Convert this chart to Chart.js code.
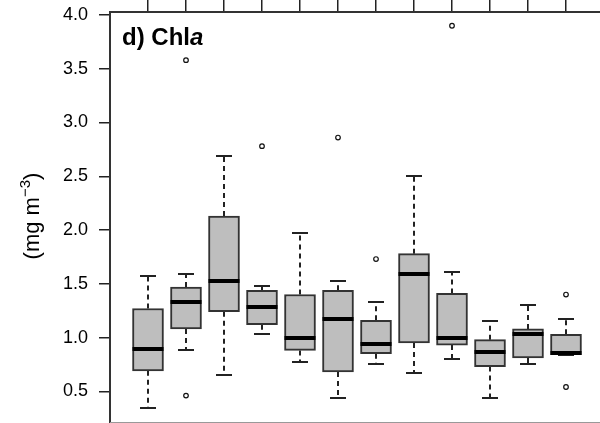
<!DOCTYPE html>
<html>
<head>
<meta charset="utf-8">
<script src="https://cdn.jsdelivr.net/npm/chart.js@4.4.1/dist/chart.umd.min.js"></script>
<style>
  html, body { margin: 0; padding: 0; background: #fff; overflow: hidden; }
  #wrap { width: 606px; height: 423px; }
</style>
</head>
<body>
<div id="wrap"><canvas id="c" width="606" height="423"></canvas></div>
<script>
// Chlorophyll a concentration per sampling group (mg m^-3): box-plot statistics
const groups   = [1, 2, 3, 4, 5, 6, 7, 8, 9, 10, 11, 12];
const whiskLow = [0.34, 0.88, 0.65, 1.03, 0.77, 0.44, 0.75, 0.67, 0.80, 0.44, 0.75, 0.84];
const q1       = [0.69, 1.08, 1.24, 1.12, 0.88, 0.68, 0.85, 0.95, 0.93, 0.73, 0.81, 0.84];
const medians  = [0.89, 1.33, 1.53, 1.28, 1.00, 1.17, 0.94, 1.59, 1.00, 0.87, 1.03, 0.86];
const q3       = [1.27, 1.47, 2.13, 1.44, 1.40, 1.44, 1.16, 1.78, 1.41, 0.98, 1.08, 1.03];
const whiskHigh= [1.57, 1.59, 2.69, 1.48, 1.97, 1.53, 1.33, 2.50, 1.61, 1.15, 1.30, 1.17];
// outlying observations: [group, value]
const outliers = [[2, 0.46], [2, 3.58], [4, 2.78], [6, 2.86], [7, 1.73], [9, 3.90], [12, 0.54], [12, 1.40]];
const yTicks   = [0.5, 1.0, 1.5, 2.0, 2.5, 3.0, 3.5, 4.0];

const FONT = "'Liberation Sans', Arial, Helvetica, sans-serif";
const BOX_W = 31;
const CAP_W = 16;

const boxParts = {
  id: 'boxParts',
  beforeDatasetsDraw(chart) {
    const { ctx, scales: { x, y } } = chart;
    ctx.save();
    ctx.strokeStyle = '#222';
    ctx.lineWidth = 2;
    groups.forEach((g, i) => {
      const px = Math.round(x.getPixelForValue(g));
      const yLo = Math.round(y.getPixelForValue(whiskLow[i]));
      const yHi = Math.round(y.getPixelForValue(whiskHigh[i]));
      // dashed whiskers
      ctx.setLineDash([5, 4]);
      ctx.beginPath();
      ctx.moveTo(px, y.getPixelForValue(q3[i])); ctx.lineTo(px, yHi);
      ctx.moveTo(px, y.getPixelForValue(q1[i])); ctx.lineTo(px, yLo);
      ctx.stroke();
      // staples
      ctx.setLineDash([]);
      ctx.beginPath();
      ctx.moveTo(px - CAP_W / 2, yHi); ctx.lineTo(px + CAP_W / 2, yHi);
      ctx.moveTo(px - CAP_W / 2, yLo); ctx.lineTo(px + CAP_W / 2, yLo);
      ctx.stroke();
    });
    ctx.restore();
  },
  afterDatasetsDraw(chart) {
    const { ctx, scales: { x, y }, chartArea } = chart;
    ctx.save();
    // medians
    ctx.strokeStyle = '#000';
    ctx.lineWidth = 4;
    groups.forEach((g, i) => {
      const px = x.getPixelForValue(g);
      const py = Math.round(y.getPixelForValue(medians[i]));
      ctx.beginPath();
      ctx.moveTo(px - BOX_W / 2, py); ctx.lineTo(px + BOX_W / 2, py);
      ctx.stroke();
    });
    // remaining frame edges
    ctx.strokeStyle = '#999';
    ctx.lineWidth = 1;
    ctx.beginPath();
    ctx.moveTo(chartArea.left, chartArea.bottom - 0.5);
    ctx.lineTo(chartArea.right, chartArea.bottom - 0.5);
    ctx.stroke();
    ctx.strokeStyle = '#333';
    ctx.lineWidth = 2;
    ctx.beginPath();
    ctx.moveTo(chartArea.right, chartArea.top);
    ctx.lineTo(chartArea.right, chartArea.bottom);
    ctx.stroke();

    // panel title
    ctx.fillStyle = '#000';
    ctx.textBaseline = 'alphabetic';
    ctx.textAlign = 'left';
    ctx.font = 'bold 24px ' + FONT;
    const t1 = 'd) Chl';
    ctx.fillText(t1, 122, 45);
    const w1 = ctx.measureText(t1).width;
    ctx.font = 'italic bold 24px ' + FONT;
    ctx.fillText('a', 122 + w1, 45);

    // y axis title with superscript
    ctx.translate(39, 216);
    ctx.rotate(-Math.PI / 2);
    const main = '(mg m';
    const sup = '\u22123';
    const close = ')';
    const big = '22px ' + FONT, small = '15px ' + FONT;
    ctx.font = big;
    const wm = ctx.measureText(main).width;
    const wc = ctx.measureText(close).width;
    ctx.font = small;
    const ws = ctx.measureText(sup).width;
    let cx = -(wm + ws + wc) / 2;
    ctx.font = big;
    ctx.fillText(main, cx, 0);
    cx += wm;
    ctx.font = small;
    ctx.fillText(sup, cx, -9);
    cx += ws;
    ctx.font = big;
    ctx.fillText(close, cx, 0);
    ctx.restore();
  }
};

new Chart(document.getElementById('c'), {
  type: 'bar',
  data: {
    datasets: [
      {
        type: 'bar',
        data: groups.map((g, i) => ({ x: g, y: [q1[i], q3[i]] })),
        backgroundColor: '#bebebe',
        borderColor: '#333',
        borderWidth: 2,
        borderSkipped: false,
        barThickness: BOX_W
      },
      {
        type: 'scatter',
        data: outliers.map(([g, v]) => ({ x: g, y: v })),
        pointStyle: 'circle',
        pointRadius: 2.3,
        pointBorderWidth: 1.2,
        pointBorderColor: '#111',
        pointBackgroundColor: '#fff'
      }
    ]
  },
  options: {
    responsive: false,
    devicePixelRatio: 1,
    animation: false,
    layout: { autoPadding: false, padding: { left: 0, right: 2, top: 0, bottom: 0 } },
    plugins: { legend: { display: false }, tooltip: { enabled: false } },
    scales: {
      x: {
        type: 'linear',
        position: 'top',
        offset: false,
        min: 0,
        max: 13,
        afterBuildTicks: s => { s.ticks = groups.map(v => ({ value: v })); },
        afterFit: s => { s.height = 12; s.paddingLeft = 0; s.paddingRight = 0; s.paddingTop = 0; s.paddingBottom = 0; },
        ticks: { display: false },
        grid: { offset: false, drawOnChartArea: false, drawTicks: true, tickLength: 12, color: '#222', lineWidth: 1.5 },
        border: { display: true, color: '#333', width: 2 }
      },
      y: {
        type: 'linear',
        min: 0.205,
        max: 4.028,
        afterBuildTicks: s => { s.ticks = yTicks.map(v => ({ value: v })); },
        afterFit: s => { s.width = 110; s.paddingTop = 0; s.paddingBottom = 0; s.paddingLeft = 0; s.paddingRight = 0; },
        ticks: {
          callback: v => Number(v).toFixed(1),
          color: '#000',
          font: { family: FONT, size: 18 },
          padding: 11
        },
        grid: { drawOnChartArea: false, drawTicks: true, tickLength: 11, color: '#222', lineWidth: 1.5 },
        border: { display: true, color: '#333', width: 2 }
      }
    }
  },
  plugins: [boxParts]
});
</script>
</body>
</html>
